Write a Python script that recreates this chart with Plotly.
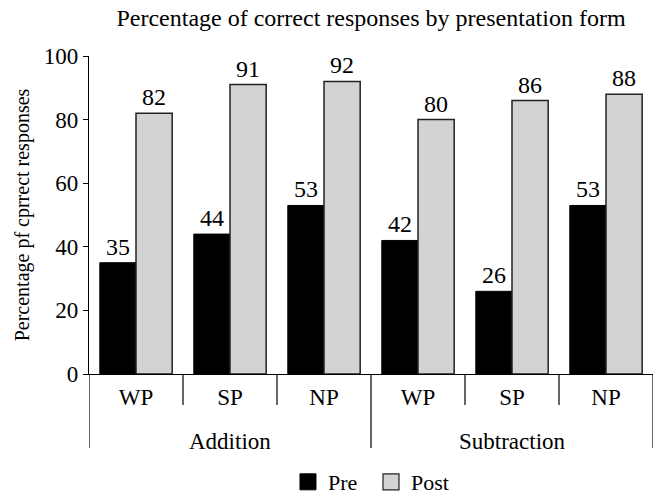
import plotly.graph_objects as go

categories = ["WP", "SP", "NP", "WP", "SP", "NP"]
groups = ["Addition", "Subtraction"]
pre = [35, 44, 53, 42, 26, 53]
post = [82, 91, 92, 80, 86, 88]

FONT = "Liberation Serif"
PRE_COLOR = "black"
POST_COLOR = "#d3d3d3"
x = list(range(len(categories)))

fig = go.Figure()
fig.add_trace(go.Bar(
    x=x, y=pre, name="Pre", showlegend=False,
    marker=dict(color=PRE_COLOR, line=dict(color="black", width=1)),
    text=[str(v) for v in pre], textposition="outside",
    textfont=dict(size=24, color="black", family=FONT),
    cliponaxis=False,
))
fig.add_trace(go.Bar(
    x=x, y=post, name="Post", showlegend=False,
    marker=dict(color=POST_COLOR, line=dict(color="#222222", width=1.5)),
    text=[str(v) for v in post], textposition="outside",
    textfont=dict(size=24, color="black", family=FONT),
    cliponaxis=False,
))
# legend entries
fig.add_trace(go.Scatter(x=[None], y=[None], mode="markers", name="Pre",
                         marker=dict(symbol="square", size=16, color=PRE_COLOR,
                                     line=dict(color="black", width=1))))
fig.add_trace(go.Scatter(x=[None], y=[None], mode="markers", name="Post",
                         marker=dict(symbol="square", size=16, color=POST_COLOR,
                                     line=dict(color="#222222", width=1.2))))

shapes = []
for i in range(len(categories) + 1):
    b = i - 0.5
    outer = (i % 3 == 0)
    shapes.append(dict(type="line", xref="x", yref="paper", x0=b, x1=b,
                       y0=0, y1=-0.233 if outer else -0.0975,
                       line=dict(color="black", width=1.2)))

annotations = []
for gi, g in enumerate(groups):
    annotations.append(dict(x=gi * 3 + 1, y=-0.212, xref="x", yref="paper",
                            text=g, showarrow=False, yanchor="middle",
                            font=dict(size=23, family=FONT, color="black")))

fig.update_layout(
    width=659, height=497,
    margin=dict(l=89, r=6, t=56, b=123),
    paper_bgcolor="white", plot_bgcolor="white",
    font=dict(family=FONT, color="black"),
    title=dict(text="Percentage of correct responses by presentation form",
               x=371 / 659, xanchor="center", y=1 - 18 / 497, yanchor="middle",
               font=dict(size=24, family=FONT, color="black")),
    barmode="group", bargap=0.23, bargroupgap=0,
    showlegend=True,
    legend=dict(orientation="h", xref="container", yref="container",
                x=0.437, xanchor="left", y=1 - 482 / 497, yanchor="middle",
                font=dict(size=22, family=FONT, color="black"),
                itemsizing="trace", itemwidth=30, entrywidth=38, traceorder="normal"),
    shapes=shapes, annotations=annotations,
)
fig.update_xaxes(range=[-0.5, 5.5], tickvals=x, ticktext=categories,
                 showline=True, linecolor="black", linewidth=1.2,
                 ticks="outside", ticklen=2, tickcolor="rgba(0,0,0,0)",
                 showgrid=False, zeroline=False,
                 tickfont=dict(size=23, family=FONT, color="black"))
fig.update_yaxes(range=[0, 100], dtick=20, showline=True, linecolor="black", linewidth=1.2,
                 ticks="outside", ticklen=5, tickcolor="black", showgrid=False, zeroline=False,
                 tickfont=dict(size=23, family=FONT, color="black"),
                 title=dict(text="Percentage pf cprrect responses", standoff=8,
                            font=dict(size=20, family=FONT, color="black")))

fig.write_html("out.html", config={"displayModeBar": False},
               post_script="document.body.style.margin='0';")
